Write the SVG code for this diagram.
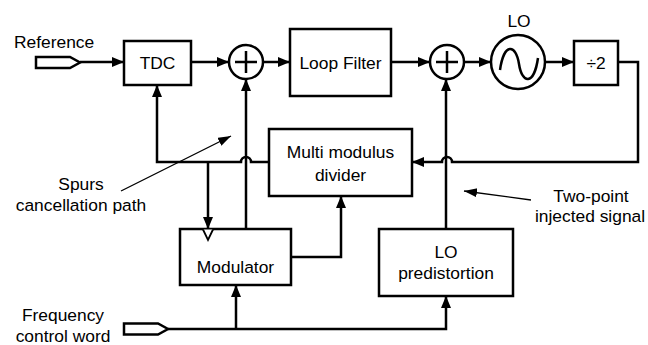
<svg xmlns="http://www.w3.org/2000/svg" width="648" height="345" viewBox="0 0 648 345">
  <style>
    .box { fill: #ffffff; stroke: #000000; stroke-width: 2.5; }
    .wire { fill: none; stroke: #000000; stroke-width: 2.5; }
    .note { fill: none; stroke: #000000; stroke-width: 1.3; }
    .lbl { font-family: "Liberation Sans", Arial, sans-serif; font-size: 17.4px; fill: #000000; text-anchor: middle; }
    .lbl-l { font-family: "Liberation Sans", Arial, sans-serif; font-size: 17.4px; fill: #000000; }
  </style>
  <defs>
    <marker id="arrow" markerUnits="userSpaceOnUse" markerWidth="13" markerHeight="11" refX="12" refY="5" orient="auto">
      <path d="M0,0 L12,5 L0,10 Z" fill="#000000"/>
    </marker>
    <marker id="arrow-thin" markerUnits="userSpaceOnUse" markerWidth="14" markerHeight="10" refX="13" refY="4.5" orient="auto">
      <path d="M0,0 L13,4.5 L0,9 Z" fill="#000000"/>
    </marker>
  </defs>

  <!-- input ports -->
  <g id="ref-port">
    <path class="box" d="M36,57 H70 L80,62.5 L70,68 H36 Z" stroke-width="2"/>
    <text class="lbl-l" x="14" y="48">Reference</text>
  </g>
  <g id="fcw-port">
    <path class="box" d="M124,323.5 H158 L168,329 L158,334.5 H124 Z" stroke-width="2"/>
    <text class="lbl" x="63" y="321">Frequency</text>
    <text class="lbl" x="63" y="341.5">control word</text>
  </g>

  <!-- blocks -->
  <g id="tdc">
    <rect class="box" x="124" y="41" width="67" height="44"/>
    <text class="lbl" x="157.5" y="69">TDC</text>
  </g>
  <g id="sum1">
    <circle class="box" cx="246" cy="62" r="17"/>
    <path class="wire" d="M235,62 H257 M246,51 V73"/>
  </g>
  <g id="loop-filter">
    <rect class="box" x="290" y="29" width="101" height="67"/>
    <text class="lbl" x="340.5" y="69">Loop Filter</text>
  </g>
  <g id="sum2">
    <circle class="box" cx="447" cy="62" r="17"/>
    <path class="wire" d="M436,62 H458 M447,51 V73"/>
  </g>
  <g id="lo">
    <circle class="box" cx="518" cy="62" r="27"/>
    <path class="wire" d="M500,70 C504,42 516,44 519,64 C522,84 534,86 538,58"/>
    <text class="lbl" x="519" y="27">LO</text>
  </g>
  <g id="div2">
    <rect class="box" x="574" y="41" width="44" height="44"/>
    <text class="lbl" x="596" y="69">÷2</text>
  </g>
  <g id="mmd">
    <rect class="box" x="269" y="129" width="143" height="67"/>
    <text class="lbl" x="340.5" y="158">Multi modulus</text>
    <text class="lbl" x="340.5" y="181">divider</text>
  </g>
  <g id="modulator">
    <rect class="box" x="180" y="229" width="111" height="56"/>
    <path d="M203,229.5 L208,240 L213,229.5" fill="#ffffff" stroke="#000000" stroke-width="1.8"/>
    <text class="lbl" x="235.5" y="273">Modulator</text>
  </g>
  <g id="lo-predistortion">
    <rect class="box" x="379" y="229" width="134" height="67"/>
    <text class="lbl" x="446" y="258">LO</text>
    <text class="lbl" x="446" y="279">predistortion</text>
  </g>

  <!-- connectors -->
  <g id="connectors">
    <path class="wire" d="M80,62 H124" marker-end="url(#arrow)"/>
    <path class="wire" d="M191,62 H229" marker-end="url(#arrow)"/>
    <path class="wire" d="M263,62 H290" marker-end="url(#arrow)"/>
    <path class="wire" d="M391,62 H430" marker-end="url(#arrow)"/>
    <path class="wire" d="M464,62 H491" marker-end="url(#arrow)"/>
    <path class="wire" d="M545,62 H574" marker-end="url(#arrow)"/>
    <!-- divided LO back to the multi modulus divider -->
    <path class="wire" d="M618,62 H638 V162 H452 A5,5 0 0 0 442,162 H412" marker-end="url(#arrow)"/>
    <!-- divider output to TDC -->
    <path class="wire" d="M269,162 H251 A5,5 0 0 0 241,162 H157 V85" marker-end="url(#arrow)"/>
    <!-- divider output clocks the modulator -->
    <path class="wire" d="M208,162 V229" marker-end="url(#arrow)"/>
    <!-- modulator to phase sum and divider -->
    <path class="wire" d="M246,229 V79" marker-end="url(#arrow)"/>
    <path class="wire" d="M291,257 H341 V196" marker-end="url(#arrow)"/>
    <!-- frequency control word -->
    <path class="wire" d="M168,329 H446 V296" marker-end="url(#arrow)"/>
    <path class="wire" d="M236,329 V285" marker-end="url(#arrow)"/>
    <!-- two-point injection -->
    <path class="wire" d="M446,229 V79" marker-end="url(#arrow)"/>
    <!-- annotation pointers -->
    <path class="note" d="M121,191 L231,136" marker-end="url(#arrow-thin)"/>
    <path class="note" d="M531,200 L464,191" marker-end="url(#arrow-thin)"/>
  </g>

  <!-- annotations -->
  <g id="spurs-note">
    <text class="lbl" x="81" y="190">Spurs</text>
    <text class="lbl" x="81" y="211">cancellation path</text>
  </g>
  <g id="injection-note">
    <text class="lbl" x="591" y="202">Two-point</text>
    <text class="lbl" x="590" y="222">injected signal</text>
  </g>
</svg>
